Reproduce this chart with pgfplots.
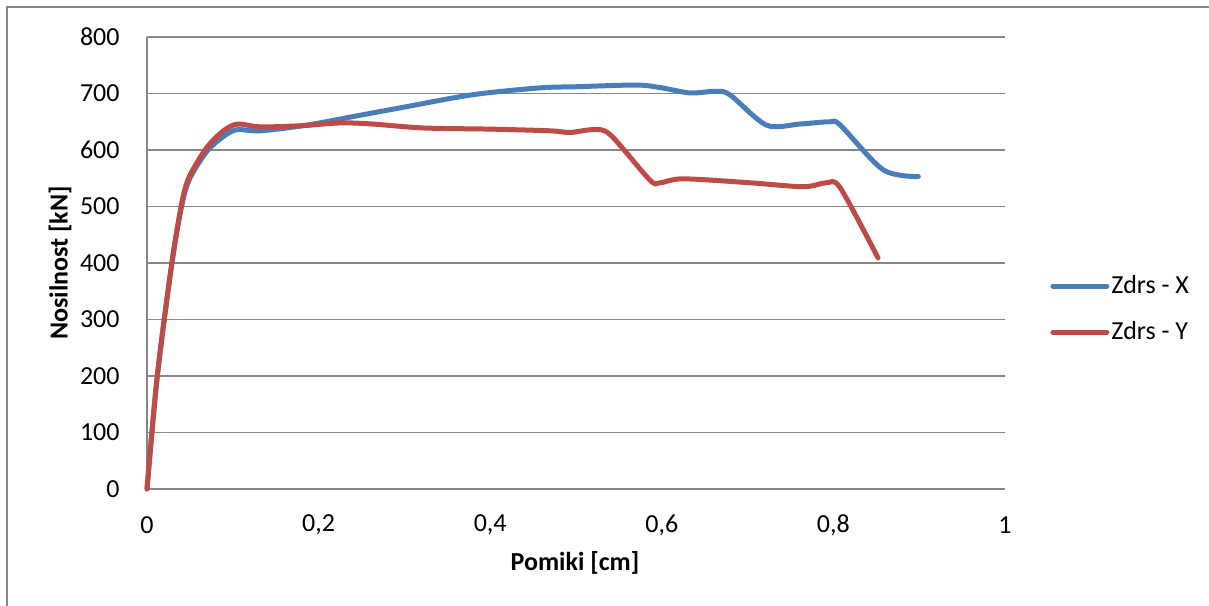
\documentclass[border=0pt]{standalone}
\usepackage{pgfplots}
\pgfplotsset{compat=1.18}
\usepackage{fontspec}
\setmainfont{Carlito}
\definecolor{sblue}{HTML}{4A7EBB}
\definecolor{sred}{HTML}{BE4B48}
\definecolor{gridgray}{HTML}{878787}
\begin{document}
\begin{tikzpicture}
\useasboundingbox (0,0) rectangle (604.5pt,-302.5pt);
\draw[gridgray, line width=0.8pt] (3.5pt,-320pt) -- (3.5pt,-3.5pt) -- (620pt,-3.5pt);
\begin{axis}[
  at={(73.5pt,-244.5pt)}, anchor=south west,
  scale only axis, width=429pt, height=226pt,
  xmin=0, xmax=1, ymin=0, ymax=800,
  axis x line*=bottom, axis y line*=left,
  x axis line style={draw=none},
  y axis line style={gridgray, line width=0.8pt, -},
  xtick={0,0.2,0.4,0.6,0.8,1},
  xticklabels={0,{0,2},{0,4},{0,6},{0,8},1},
  ytick={0,100,...,800},
  ymajorgrids, major grid style={gridgray, line width=0.8pt},
  major tick length=0pt,
  tick style={draw=none},
  /pgf/number format/assume math mode=true,
  ticklabel style={font=\fontsize{13}{15}\selectfont, text=black, inner sep=0pt},
  xticklabel style={anchor=center, yshift=-18pt},
  yticklabel style={anchor=east, xshift=-13.5pt},
  xlabel={\textbf{Pomiki [cm]}},
  ylabel={\textbf{Nosilnost [kN]}},
  label style={font=\fontsize{13}{15}\selectfont},
  xlabel style={at={(axis description cs:0.4988,-0.1637)}, anchor=center},
  ylabel style={at={(axis description cs:-0.1014,0.5)}, anchor=center},
  legend style={at={(1.0524,0.398)}, anchor=west, draw=none, fill=none,
    font=\fontsize{13}{15}\selectfont, row sep=10.5pt, inner sep=0pt,
    nodes={inner sep=1pt}},
  legend cell align=left,
  legend image code/.code={\draw[#1, line width=2.5pt, line cap=round] (0pt,0pt) -- (27pt,0pt);},
  clip=false,
]
\addplot[sblue, line width=2.5pt, smooth, tension=0.5, line cap=round, line join=round] coordinates {
(0,0)(0.012,200)(0.029,400)(0.041,505)(0.05,550)(0.07,598)(0.09,625)(0.105,636)(0.132,634)(0.186,644)(0.25,662)(0.3,676)(0.38,698)(0.458,710)(0.5,712)(0.571,715)(0.6,710)(0.633,701)(0.664,704)(0.68,697)(0.722,644)(0.761,646)(0.796,650)(0.808,644)(0.858,565)(0.899,553)
};
\addlegendentry{Zdrs - X}
\addplot[sred, line width=2.5pt, smooth, tension=0.5, line cap=round, line join=round] coordinates {
(0,0)(0.012,200)(0.029,400)(0.041,510)(0.05,555)(0.07,605)(0.09,635)(0.106,646)(0.132,641)(0.18,643)(0.225,648)(0.263,646)(0.322,639)(0.4,637)(0.47,634)(0.493,631)(0.52,636)(0.54,627)(0.586,547)(0.598,542)(0.625,549)(0.703,542)(0.765,535)(0.792,542)(0.808,533)(0.852,409)
};
\addlegendentry{Zdrs - Y}
\end{axis}
\end{tikzpicture}
\end{document}
